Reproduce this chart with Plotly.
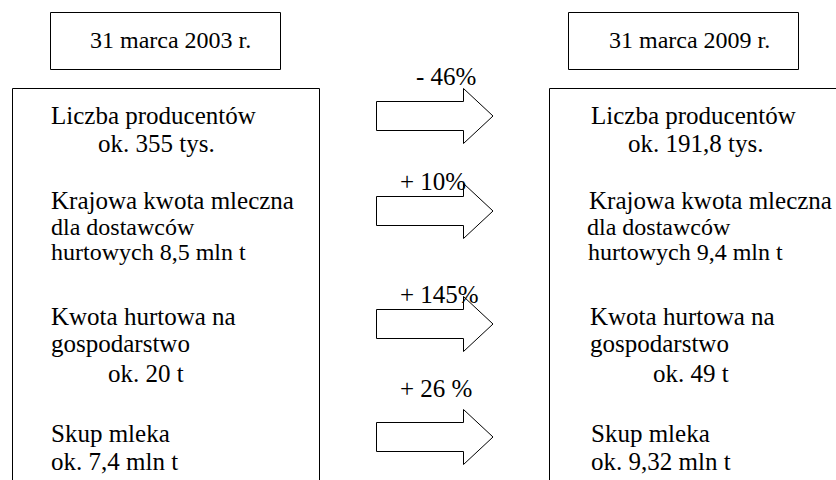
import plotly.graph_objects as go

# ---- data (text content) ----
header_labels = ["31 marca 2003 r.", "31 marca 2009 r."]
left_lines = ["Liczba producentów", "ok. 355 tys.",
              "Krajowa kwota mleczna", "dla dostawców", "hurtowych 8,5 mln t",
              "Kwota hurtowa na", "gospodarstwo", "ok. 20 t",
              "Skup mleka", "ok. 7,4 mln t"]
right_lines = ["Liczba producentów", "ok. 191,8 tys.",
               "Krajowa kwota mleczna", "dla dostawców", "hurtowych 9,4 mln t",
               "Kwota hurtowa na", "gospodarstwo", "ok. 49 t",
               "Skup mleka", "ok. 9,32 mln t"]
change_labels = ["- 46%", "+ 10%", "+ 145%", "+ 26 %"]

# ---- layout (pixel positions) ----
W, H = 836, 480
FONT = "Liberation Serif"
line_baselines = [124, 152, 209, 235, 260, 325, 352, 382, 442, 470]
line_sizes = [25, 25, 25, 24, 24, 25, 25, 25, 25, 25]
left_x = [50, 97, 50, 50, 50, 50, 50, 107, 50, 50]
right_x = [590, 627, 588, 586, 587, 589, 589, 652, 590, 590]
header_x = [89, 608]
header_baseline = 48
change_x = [415, 399, 399, 399]
change_baselines = [85, 190, 303, 397]
arrow_centers = [116, 211, 324, 437]

def mid_from_baseline(b, fs):
    return b - 0.3375 * fs

fig = go.Figure()
annotations = []

def add_text(txt, x, baseline, fs):
    annotations.append(dict(
        text=txt, x=x, y=mid_from_baseline(baseline, fs), xref="x", yref="y",
        xanchor="left", yanchor="middle", showarrow=False,
        font=dict(family=FONT, size=fs, color="black"), borderpad=0))

for t, x in zip(header_labels, header_x):
    add_text(t, x, header_baseline, 24)
for t, x, b, fs in zip(left_lines, left_x, line_baselines, line_sizes):
    add_text(t, x, b, fs)
for t, x, b, fs in zip(right_lines, right_x, line_baselines, line_sizes):
    add_text(t, x, b, fs)
for t, x, b in zip(change_labels, change_x, change_baselines):
    add_text(t, x, b, 25)

shapes = []
line = dict(color="black", width=1)
# header boxes
shapes.append(dict(type="rect", x0=50.5, x1=280.5, y0=12.5, y1=69.5, line=line))
shapes.append(dict(type="rect", x0=568.5, x1=798.5, y0=12.5, y1=69.5, line=line))
# main boxes
shapes.append(dict(type="rect", x0=12.5, x1=319.5, y0=88.5, y1=495, line=line))
shapes.append(dict(type="rect", x0=549.5, x1=860, y0=88.5, y1=495, line=line))

# arrows
bx0, bx1, tipx = 376.5, 463.5, 493
bh, hh = 14.5, 27.5
for c in arrow_centers:
    path = (f"M {bx0} {c-bh} L {bx1} {c-bh} L {bx1} {c-hh} L {tipx} {c} "
            f"L {bx1} {c+hh} L {bx1} {c+bh} L {bx0} {c+bh} Z")
    shapes.append(dict(type="path", path=path, line=line, fillcolor="white",
                       layer="below"))

fig.update_layout(
    width=W, height=H, margin=dict(l=0, r=0, t=0, b=0),
    paper_bgcolor="white", plot_bgcolor="white",
    xaxis=dict(range=[0, W], visible=False, fixedrange=True),
    yaxis=dict(range=[H, 0], visible=False, fixedrange=True),
    shapes=shapes, annotations=annotations, showlegend=False,
)
fig.write_html("out.html", config={"displayModeBar": False},
               post_script="document.body.style.margin='0';")
